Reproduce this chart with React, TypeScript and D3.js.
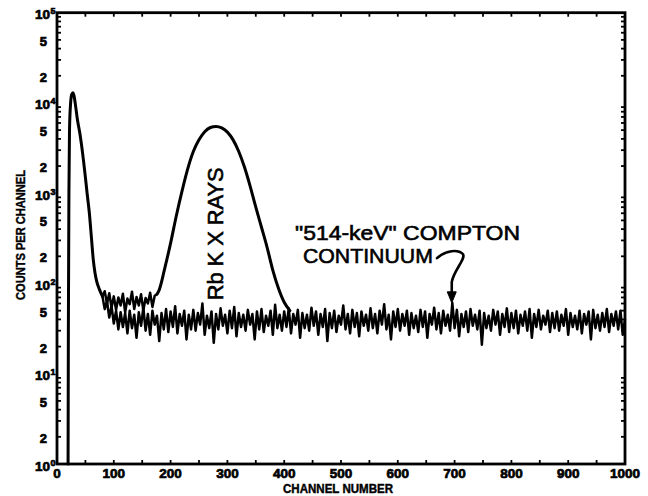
import React from 'react';
import * as d3 from 'd3';

const W = 648;
const H = 496;

// X axis tick labels (channel numbers)
const xTickLabels = [0, 100, 200, 300, 400, 500, 600, 700, 800, 900, 1000];
// Y axis decade exponents and minor labels
const yExponents = [0, 1, 2, 3, 4, 5];
const yMinorLabels = [2, 5];

// Low-energy peak (shared by both spectra)
const leftPeakChannels = [19.5, 20, 21, 22, 24, 26, 28, 30, 33, 36, 40, 45, 50, 53, 57, 61, 64, 67, 70, 75, 80];
const leftPeakCounts = [1, 30, 1000, 5000, 10000, 12500, 13000, 12000, 9000, 6500, 4700, 2800, 1500, 1000, 600, 300, 180, 130, 105, 85, 72];

// Rb spectrum: noisy plateau between the peaks (channels 80..176, step 4)
const rbPlateauStart = 80;
const rbPlateauCounts = [72, 82, 60, 78, 54, 72, 51, 70, 57, 77, 48, 68, 59, 81, 52, 71, 57, 76, 50, 69, 60, 79, 55, 73, 76];

// Rb K X-ray peak
const rbPeakChannels = [176, 180, 190, 200, 210, 220, 230, 240, 250, 260, 270, 280, 290, 300, 310, 320, 330, 340, 350, 360, 370, 380, 390, 400, 410];
const rbPeakCounts = [76, 85, 150, 280, 560, 1050, 1850, 2900, 3900, 4800, 5350, 5500, 5300, 4750, 3900, 2900, 1950, 1200, 700, 420, 250, 140, 88, 62, 50];

// "514-keV" Compton continuum (channels 80..1000, step 4)
const comptonStart = 80;
const comptonCounts = [
  72, 52, 64, 42, 56, 36, 50, 31, 48, 33,
  47, 28, 50, 32, 45, 25, 48, 34, 54, 30,
  46, 27, 50, 35, 44, 23, 47, 31, 52, 29,
  49, 33, 56, 28, 46, 34, 50, 24, 45, 31,
  51, 30, 47, 35, 60, 27, 44, 32, 49, 22,
  46, 31, 53, 34, 45, 28, 50, 32, 55, 26,
  47, 33, 45, 30, 51, 35, 46, 24, 49, 31,
  52, 29, 44, 34, 50, 27, 58, 32, 45, 30,
  49, 33, 53, 28, 46, 35, 51, 25, 47, 32,
  45, 30, 54, 34, 49, 27, 46, 33, 52, 23,
  47, 32, 50, 29, 44, 35, 57, 31, 46, 28,
  51, 33, 47, 26, 49, 34, 45, 30, 53, 32,
  46, 28, 50, 35, 59, 31, 45, 24, 49, 33,
  52, 30, 46, 34, 50, 27, 47, 32, 44, 29,
  51, 33, 49, 25, 46, 35, 54, 31, 47, 28,
  50, 34, 45, 30, 61, 32, 51, 26, 46, 33,
  49, 29, 52, 34, 45, 31, 50, 21, 47, 32,
  44, 30, 51, 35, 49, 27, 46, 33, 53, 29,
  47, 32, 50, 28, 45, 34, 49, 30, 52, 25,
  46, 33, 51, 31, 44, 35, 50, 29, 47, 32,
  49, 30, 45, 34, 52, 27, 47, 33, 44, 31,
  50, 28, 46, 35, 49, 24, 51, 32, 45, 30,
  47, 33, 52, 29, 46, 34, 49, 31, 50, 27,
  40,
];
const STEP = 4;

const FONT = '"Liberation Sans", Arial, Helvetica, sans-serif';

export default function App() {
  const x = d3.scaleLinear().domain([0, 1000]).range([57, 625]);
  const y = d3.scaleLog().domain([1, 1e5]).range([464, 12.7]);
  const [x0, x1] = x.range();
  const [y0, y1] = y.range();

  const mono = d3
    .line<[number, number]>()
    .x((d) => x(d[0]))
    .y((d) => y(d[1]))
    .curve(d3.curveMonotoneX);
  const lin = d3
    .line<[number, number]>()
    .x((d) => x(d[0]))
    .y((d) => y(d[1]));

  const leftPeak = leftPeakChannels.map((c, i) => [c, leftPeakCounts[i]] as [number, number]);
  const rbPlateau = rbPlateauCounts.map((v, i) => [rbPlateauStart + i * STEP, v] as [number, number]);
  const rbPeak = rbPeakChannels.map((c, i) => [c, rbPeakCounts[i]] as [number, number]);
  const compton = comptonCounts.map((v, i) => [comptonStart + i * STEP, v] as [number, number]);

  // minor ticks
  const yMinor: number[] = [];
  for (let e = 0; e < 5; e++) for (let m = 2; m <= 9; m++) yMinor.push(m * Math.pow(10, e));
  const xMinor = d3.range(50, 1000, 50);

  // annotation anchors (data coordinates)
  const rbLabel = { ch: 292, v: 65 };
  const line1 = { ch: 419, v: 300 };
  const line2 = { ch: 433, v: 168 };
  const arrowStart = { ch: 669, v: 191 };
  const arrowTip = { ch: 695, v: 61 };

  const as = [x(arrowStart.ch), y(arrowStart.v)];
  const at = [x(arrowTip.ch), y(arrowTip.v)];
  const arrowPath = `M${as[0]},${as[1]} C${as[0] + 9},${as[1] - 8} ${as[0] + 21},${as[1] - 9} ${as[0] + 26},${as[1] - 4} C${as[0] + 29},${as[1] + 1} ${at[0] + 2},${as[1] + 12} ${at[0]},${as[1] + 24} L${at[0]},${at[1] - 8}`;
  const arrowHead = `M${at[0] - 4.5},${at[1] - 11} L${at[0] + 4.5},${at[1] - 11} L${at[0]},${at[1]} Z`;

  return (
    <svg
      width={W}
      height={H}
      viewBox={`0 0 ${W} ${H}`}
      style={{ position: 'absolute', left: 0, top: 0, background: '#fff' }}
    >
      <rect x={0} y={0} width={W} height={H} fill="#fff" />

      {/* data */}
      <g fill="none" stroke="#000" strokeLinejoin="round" strokeLinecap="round">
        <path d={lin(compton) || ''} strokeWidth={2.5} />
        <path d={lin(rbPlateau) || ''} strokeWidth={2.5} />
        <path d={mono(rbPeak) || ''} strokeWidth={3} />
        <path d={mono(leftPeak) || ''} strokeWidth={3} />
      </g>

      {/* frame */}
      <rect x={x0} y={y1} width={x1 - x0} height={y0 - y1} fill="none" stroke="#000" strokeWidth={2.8} />

      {/* ticks */}
      <g stroke="#000" strokeWidth={1.8}>
        {yMinor.map((v) => (
          <g key={'ym' + v}>
            <line x1={x0} x2={x0 + 4} y1={y(v)} y2={y(v)} />
            <line x1={x1} x2={x1 - 4} y1={y(v)} y2={y(v)} />
          </g>
        ))}
        {xMinor.map((c) => (
          <g key={'xm' + c}>
            <line x1={x(c)} x2={x(c)} y1={y0} y2={y0 - 4} />
            <line x1={x(c)} x2={x(c)} y1={y1} y2={y1 + 4} />
          </g>
        ))}
      </g>

      {/* tick labels */}
      <g fontFamily={FONT} fontWeight="bold" fill="#000" stroke="#000" strokeWidth={0.7}>
        {yExponents.map((e) => {
          const ty = y(Math.pow(10, e));
          return (
            <g key={'ye' + e}>
              <text x={50} y={ty + 6.5} fontSize={13.5} textAnchor="end">10</text>
              <text x={50.5} y={ty + 1.5} fontSize={9}>{e}</text>
            </g>
          );
        })}
        {yExponents.slice(0, 5).flatMap((e) =>
          yMinorLabels.map((m) => (
            <text key={'yl' + e + m} x={47} y={y(m * Math.pow(10, e)) + 6} fontSize={13} textAnchor="end">
              {m}
            </text>
          ))
        )}
        {xTickLabels.map((c) => (
          <text key={'xl' + c} x={x(c)} y={478} fontSize={13.5} textAnchor="middle">
            {c}
          </text>
        ))}
      </g>

      {/* axis titles */}
      <g fontFamily={FONT} fontWeight="bold" fill="#000" stroke="#000" strokeWidth={0.4}>
        <text
          transform={`translate(25,235) rotate(-90)`}
          fontSize={12.5}
          textAnchor="middle"
          textLength={130}
          lengthAdjust="spacingAndGlyphs"
        >
          COUNTS PER CHANNEL
        </text>
        <text
          x={338}
          y={492.5}
          fontSize={12}
          textAnchor="middle"
          textLength={110}
          lengthAdjust="spacingAndGlyphs"
        >
          CHANNEL NUMBER
        </text>
      </g>

      {/* annotations */}
      <g fontFamily={FONT} fill="#000" stroke="#000" strokeWidth={0.6}>
        <text
          transform={`translate(${x(rbLabel.ch)},${y(rbLabel.v)}) rotate(-90)`}
          fontSize={22}
          textLength={133}
          lengthAdjust="spacingAndGlyphs"
        >
          Rb K X RAYS
        </text>
        <text x={x(line1.ch)} y={y(line1.v)} fontSize={21} textLength={225} lengthAdjust="spacingAndGlyphs">
          "514-keV" COMPTON
        </text>
        <text x={x(line2.ch)} y={y(line2.v)} fontSize={21} textLength={130} lengthAdjust="spacingAndGlyphs">
          CONTINUUM
        </text>
      </g>
      <path d={arrowPath} fill="none" stroke="#000" strokeWidth={2.6} strokeLinecap="round" />
      <path d={arrowHead} fill="#000" stroke="#000" strokeWidth={1} strokeLinejoin="round" />
    </svg>
  );
}
